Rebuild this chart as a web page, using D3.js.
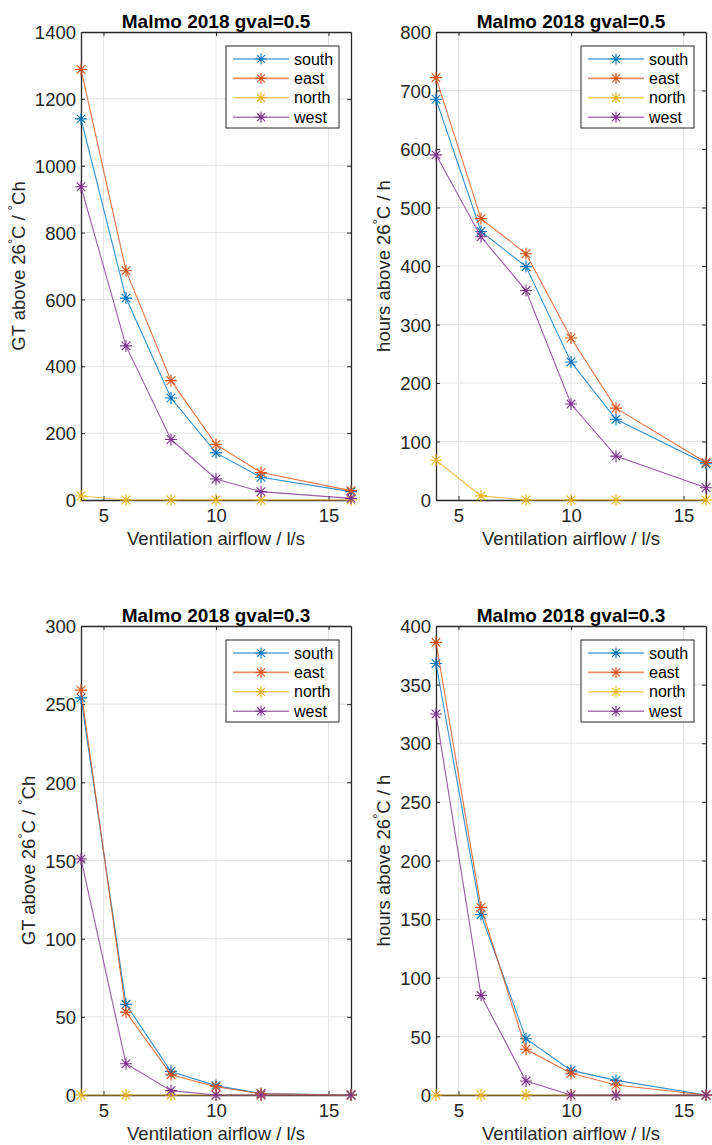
<!DOCTYPE html>
<html>
<head>
<meta charset="utf-8">
<script src="https://cdn.jsdelivr.net/npm/d3@7"></script>
<style>
  html, body { margin: 0; padding: 0; background: #fff; }
  svg { display: block; font-family: Arial, "Liberation Sans", Helvetica, sans-serif; }
</style>
</head>
<body>
<svg id="fig" width="712" height="1145"></svg>
<script>
// Ventilation airflow steps (l/s)
const airflow = [4, 6, 8, 10, 12, 16];
const orientations = ["south", "east", "north", "west"];
const orientationColors = ["#0072BD", "#D95319", "#EDB120", "#7E2F8E"];

// Degree-hours above 26 °C, g-value 0.5
const gt05South = [1140, 604, 305, 141, 68, 25];
const gt05East  = [1288, 686, 357, 166, 82, 28];
const gt05North = [12, 0, 0, 0, 0, 0];
const gt05West  = [937, 461, 181, 63, 25, 5];

// Hours above 26 °C, g-value 0.5
const h05South = [685, 459, 399, 236, 138, 62];
const h05East  = [722, 481, 421, 277, 157, 64];
const h05North = [68, 7, 0, 0, 0, 0];
const h05West  = [590, 450, 358, 164, 75, 21];

// Degree-hours above 26 °C, g-value 0.3
const gt03South = [254, 58, 15, 6, 1, 0];
const gt03East  = [259, 53, 13, 5.3, 0.8, 0];
const gt03North = [0, 0, 0, 0, 0, 0];
const gt03West  = [151, 20, 2.8, 0, 0, 0];

// Hours above 26 °C, g-value 0.3
const h03South = [368, 154, 48, 21, 12.5, 0];
const h03East  = [386, 160, 39, 18.5, 8.5, 0];
const h03North = [0, 0, 0, 0, 0, 0];
const h03West  = [325, 85, 12, 0, 0, 0];

// Axis tick values
const xTicks = [5, 10, 15];
const gt05Ticks = [0, 200, 400, 600, 800, 1000, 1200, 1400];
const h05Ticks = [0, 100, 200, 300, 400, 500, 600, 700, 800];
const gt03Ticks = [0, 50, 100, 150, 200, 250, 300];
const h03Ticks = [0, 50, 100, 150, 200, 250, 300, 350, 400];

const panels = [
  { title: "Malmo 2018 gval=0.5", yLabel: ["GT above 26", "C / ", "Ch"], yMax: 1400, ticks: gt05Ticks,
    series: [gt05South, gt05East, gt05North, gt05West], left: 81, right: 351, top: 32, bottom: 500 },
  { title: "Malmo 2018 gval=0.5", yLabel: ["hours above 26", "C / h"], yMax: 800, ticks: h05Ticks,
    series: [h05South, h05East, h05North, h05West], left: 436, right: 706, top: 32, bottom: 500 },
  { title: "Malmo 2018 gval=0.3", yLabel: ["GT above 26", "C / ", "Ch"], yMax: 300, ticks: gt03Ticks,
    series: [gt03South, gt03East, gt03North, gt03West], left: 81, right: 351, top: 626, bottom: 1095 },
  { title: "Malmo 2018 gval=0.3", yLabel: ["hours above 26", "C / h"], yMax: 400, ticks: h03Ticks,
    series: [h03South, h03East, h03North, h03West], left: 436, right: 706, top: 626, bottom: 1095 }
];

const svg = d3.select("#fig");
const axisColor = "#262626";
const gridColor = "#e3e3e3";
const tickFont = 18.5;

// Asterisk marker: a plus overlaid with a cross
function asterisk(g, cx, cy, color, r) {
  const d = r * 0.72;
  const p = `M${cx - r},${cy}H${cx + r}M${cx},${cy - r}V${cy + r}` +
            `M${cx - d},${cy - d}L${cx + d},${cy + d}M${cx - d},${cy + d}L${cx + d},${cy - d}`;
  g.append("path").attr("d", p).attr("stroke", color).attr("stroke-width", 1.1).attr("fill", "none");
}

panels.forEach(p => {
  const x = d3.scaleLinear().domain([4, 16]).range([p.left, p.right]);
  const y = d3.scaleLinear().domain([0, p.yMax]).range([p.bottom, p.top]);
  const g = svg.append("g");

  // grid
  g.append("g").selectAll("line").data(xTicks).join("line")
    .attr("x1", d => x(d)).attr("x2", d => x(d)).attr("y1", p.top).attr("y2", p.bottom)
    .attr("stroke", gridColor).attr("stroke-width", 1);
  g.append("g").selectAll("line").data(p.ticks.slice(1, -1)).join("line")
    .attr("y1", d => y(d)).attr("y2", d => y(d)).attr("x1", p.left).attr("x2", p.right)
    .attr("stroke", gridColor).attr("stroke-width", 1);

  // axes with inward ticks on all four sides
  const tl = 4;
  const fmt = d3.format("d");
  const bottomAx = d3.axisBottom(x).tickValues(xTicks).tickSizeInner(-tl).tickSizeOuter(0).tickPadding(9);
  const topAx = d3.axisTop(x).tickValues(xTicks).tickSizeInner(-tl).tickSizeOuter(0).tickFormat("");
  const leftAx = d3.axisLeft(y).tickValues(p.ticks).tickFormat(fmt).tickSizeInner(-tl).tickSizeOuter(0).tickPadding(5);
  const rightAx = d3.axisRight(y).tickValues(p.ticks).tickSizeInner(-tl).tickSizeOuter(0).tickFormat("");

  const axes = [
    g.append("g").attr("transform", `translate(0,${p.bottom})`).call(bottomAx),
    g.append("g").attr("transform", `translate(0,${p.top})`).call(topAx),
    g.append("g").attr("transform", `translate(${p.left},0)`).call(leftAx),
    g.append("g").attr("transform", `translate(${p.right},0)`).call(rightAx)
  ];
  axes.forEach(a => {
    a.select(".domain").attr("stroke", axisColor).attr("stroke-width", 1.3);
    a.selectAll(".tick line").attr("stroke", axisColor).attr("stroke-width", 1);
    a.selectAll(".tick text").attr("fill", axisColor).attr("font-size", tickFont).attr("font-family", null);
  });
  // y tick labels centred on the tick
  axes[2].selectAll(".tick text").attr("dy", "0.36em");

  // title
  g.append("text").attr("x", (p.left + p.right) / 2).attr("y", p.top - 4)
    .attr("text-anchor", "middle").attr("font-weight", "bold").attr("font-size", 19)
    .attr("fill", "#000").text(p.title);

  // x label
  g.append("text").attr("x", (p.left + p.right) / 2).attr("y", p.bottom + 45)
    .attr("text-anchor", "middle").attr("font-size", tickFont).attr("fill", axisColor)
    .text("Ventilation airflow / l/s");

  // y label, placed clear of the widest tick label
  let maxW = 0;
  axes[2].selectAll(".tick text").each(function () { maxW = Math.max(maxW, this.getComputedTextLength()); });
  const ly = (p.top + p.bottom) / 2;
  const lx = p.left - 5 - maxW - 10;
  const lab = g.append("text").attr("transform", `translate(${lx},${ly}) rotate(-90)`)
    .attr("text-anchor", "middle").attr("font-size", tickFont).attr("fill", axisColor);
  p.yLabel.forEach((part, i) => {
    if (i > 0) {
      lab.append("tspan").attr("font-size", tickFont * 0.7).attr("dy", -8).text("\u00B0");
      lab.append("tspan").attr("dy", 8).text(part);
    } else {
      lab.append("tspan").text(part);
    }
  });

  // series lines and markers
  const line = d3.line().x((d, i) => x(airflow[i])).y(d => y(d));
  p.series.forEach((vals, si) => {
    const c = orientationColors[si];
    g.append("path").attr("d", line(vals)).attr("fill", "none")
      .attr("stroke", c).attr("stroke-width", 1.1).attr("stroke-opacity", 0.8);
    const mg = g.append("g");
    vals.forEach((v, i) => asterisk(mg, x(airflow[i]), y(v), c, 6));
  });

  // legend
  const lw = 113, lh = 82;
  const lx0 = p.right - 12 - lw, ly0 = p.top + 14;
  const lg = g.append("g").attr("transform", `translate(${lx0},${ly0})`);
  lg.append("rect").attr("width", lw).attr("height", lh).attr("fill", "#fff")
    .attr("stroke", axisColor).attr("stroke-width", 1);
  orientations.forEach((name, i) => {
    const ry = 13 + i * 19.4;
    const c = orientationColors[i];
    lg.append("line").attr("x1", 7).attr("x2", 63).attr("y1", ry).attr("y2", ry)
      .attr("stroke", c).attr("stroke-width", 1.6).attr("stroke-opacity", 0.65);
    asterisk(lg, 35, ry, c, 5.5);
    lg.append("text").attr("x", 68).attr("y", ry).attr("dy", "0.35em")
      .attr("font-size", 16).attr("fill", "#000").text(name);
  });
});
</script>
</body>
</html>
